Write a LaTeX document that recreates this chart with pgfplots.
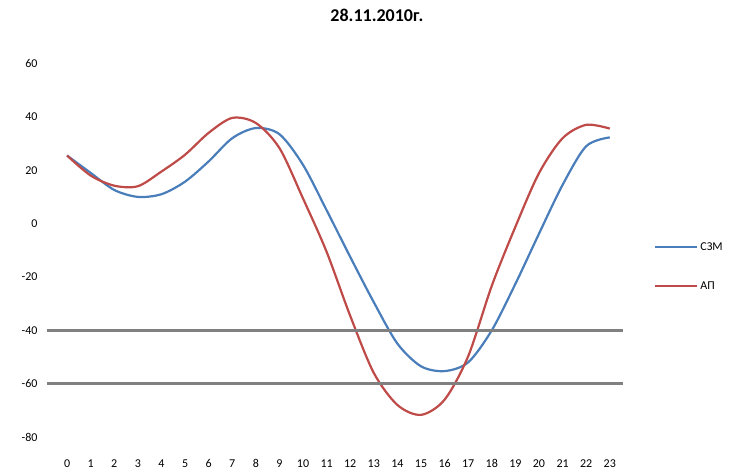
\documentclass[border=0pt]{standalone}
\usepackage{pgfplots}
\pgfplotsset{compat=1.18}
\usepackage{fontspec}
\setmainfont{Carlito}
\definecolor{exblue}{HTML}{4A7EBB}
\definecolor{exred}{HTML}{BE4B48}
\definecolor{exgray}{HTML}{808080}
\begin{document}
\begin{tikzpicture}
\useasboundingbox (0,0) rectangle (740pt,476pt);
\begin{axis}[
  at={(47pt,39pt)}, anchor=south west,
  scale only axis, width=576pt, height=373.5pt,
  xmin=-0.85, xmax=23.56, ymin=-80, ymax=60,
  axis line style={draw=none},
  major tick length=0pt,
  xtick={0,...,23}, ytick={-80,-60,...,60},
  tick label style={font=\fontsize{12}{14}\selectfont},
  /pgf/number format/assume math mode=true,
  yticklabel style={xshift=-6pt},
  xticklabel style={yshift=-19pt},
  title={28.11.2010г.},
  title style={font=\bfseries\fontsize{18}{20}\selectfont, at={(0.5,1)}, anchor=center, xshift=42pt, yshift=42pt},
  clip=false,
  legend style={draw=none, at={(1,0.456)}, anchor=west, xshift=31pt, inner sep=0pt,
     row sep=26pt, nodes={inner sep=2pt}, font=\fontsize{12}{14}\selectfont},
  legend cell align=left,
  legend image code/.code={\draw[#1] (0pt,0pt) -- (42pt,0pt);},
]
\addplot[exblue, line width=2.2pt, smooth, tension=0.5] coordinates {
(0,25.5) (1,19) (2,12.6) (3,10) (4,11) (5,15.7) (6,23.3) (7,32) (8,35.8) (9,33.5)
(10,22) (11,5) (12,-12.5) (13,-29.5) (14,-45) (15,-53.5) (16,-55.3) (17,-52)
(18,-40) (19,-22.6) (20,-3.8) (21,14.5) (22,29) (23,32.3)};
\addlegendentry{СЗМ}
\addplot[exred, line width=2.2pt, smooth, tension=0.5] coordinates {
(0,25.5) (1,18) (2,14.2) (3,14) (4,19.5) (5,25.8) (6,34) (7,39.6) (8,37.7) (9,28.3)
(10,9.4) (11,-10.6) (12,-34.6) (13,-56) (14,-68) (15,-71.7) (16,-66) (17,-49.7)
(18,-23.3) (19,-1.2) (20,18.9) (21,32) (22,37) (23,35.6)};
\addlegendentry{АП}
\addplot[exgray, line width=2.5pt, forget plot] coordinates {(-0.85,-40) (23.56,-40)};
\addplot[exgray, line width=2.5pt, forget plot] coordinates {(-0.85,-60) (23.56,-60)};
\end{axis}
\end{tikzpicture}
\end{document}
